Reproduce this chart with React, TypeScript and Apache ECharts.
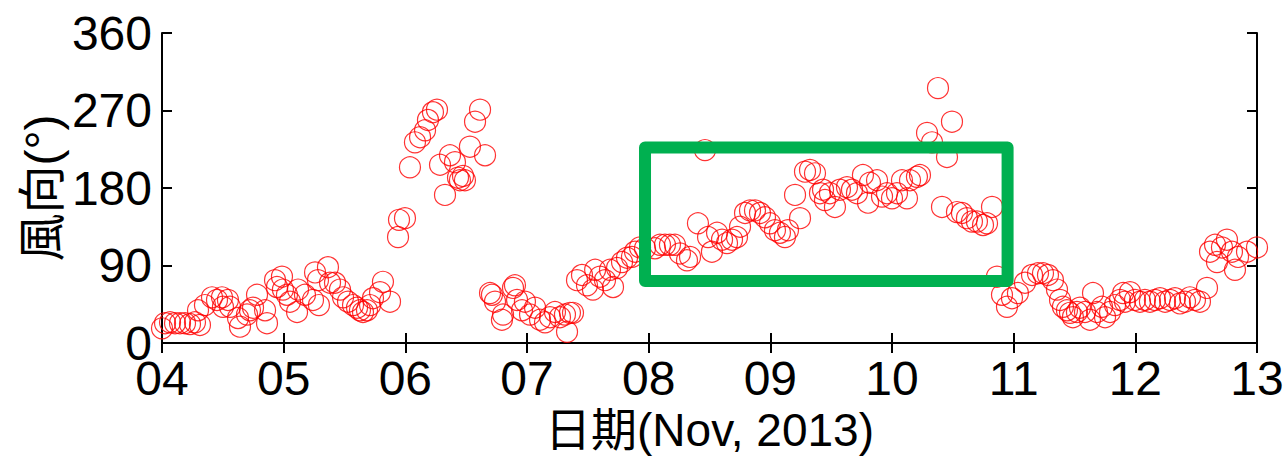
import React, { useEffect, useRef } from "react";
import * as echarts from "echarts";

const days: number[] = [
  4.0, 4.025, 4.066, 4.107, 4.148, 4.189, 4.23, 4.271, 4.296, 4.312, 4.353, 4.411, 4.452, 4.493, 4.501, 4.542, 4.559,
  4.625, 4.641, 4.699, 4.723, 4.748, 4.781, 4.847, 4.863, 4.929, 4.945, 4.986, 4.994, 5.027, 5.052, 5.11, 5.118,
  5.175, 5.241, 5.258, 5.282, 5.29, 5.364, 5.381, 5.422, 5.463, 5.488, 5.529, 5.57, 5.603, 5.627, 5.652, 5.685,
  5.71, 5.734, 5.792, 5.816, 5.874, 5.94, 5.948, 5.997, 6.038, 6.079, 6.121, 6.162, 6.186, 6.227, 6.26, 6.285,
  6.326, 6.367, 6.408, 6.433, 6.449, 6.474, 6.49, 6.531, 6.573, 6.614, 6.655, 6.696, 6.712, 6.737, 6.794, 6.803,
  6.885, 6.901, 6.918, 6.959, 6.983, 7.025, 7.066, 7.107, 7.148, 7.189, 7.23, 7.271, 7.312, 7.329, 7.353, 7.378,
  7.411, 7.452, 7.493, 7.542, 7.56, 7.6, 7.641, 7.682, 7.707, 7.74, 7.781, 7.822, 7.863, 7.888, 7.929, 7.97,
  8.052, 8.093, 8.134, 8.175, 8.216, 8.257, 8.315, 8.34, 8.405, 8.463, 8.488, 8.52, 8.562, 8.603, 8.644, 8.685,
  8.726, 8.751, 8.792, 8.833, 8.874, 8.915, 8.956, 8.997, 9.038, 9.079, 9.12, 9.145, 9.203, 9.244, 9.285, 9.326,
  9.367, 9.408, 9.433, 9.449, 9.49, 9.531, 9.572, 9.63, 9.671, 9.712, 9.761, 9.803, 9.819, 9.877, 9.918, 9.959,
  10.0, 10.041, 10.082, 10.123, 10.148, 10.205, 10.23, 10.288, 10.329, 10.378, 10.411, 10.452, 10.493, 10.534,
  10.575, 10.616, 10.657, 10.698, 10.748, 10.781, 10.822, 10.863, 10.904, 10.945, 10.986, 11.035, 11.093, 11.151,
  11.2, 11.241, 11.282, 11.323, 11.356, 11.381, 11.405, 11.438, 11.463, 11.487, 11.52, 11.545, 11.586, 11.627,
  11.652, 11.685, 11.726, 11.751, 11.792, 11.833, 11.874, 11.9, 11.915, 11.956, 11.997, 12.038, 12.079, 12.12,
  12.161, 12.203, 12.244, 12.285, 12.326, 12.367, 12.408, 12.449, 12.49, 12.531, 12.589, 12.614, 12.655, 12.671,
  12.712, 12.753, 12.794, 12.819, 12.844, 12.918, 13.0,
];

const values: number[] = [
  17, 23, 24, 23, 23, 23, 22, 24, 38, 21, 44, 53, 50, 53, 42, 50, 42,
  29, 19, 33, 38, 41, 56, 38, 23, 73, 65, 77, 62, 56, 48, 36, 62,
  56, 50, 82, 73, 44, 88, 70, 70, 62, 53, 48, 44, 41, 38, 36, 38,
  44, 52, 59, 71, 48, 123, 143, 145, 204, 233, 239, 247, 259, 268, 271, 207,
  172, 218, 210, 192, 189, 194, 189, 228, 257, 271, 218, 58, 56, 48, 27, 33,
  64, 67, 50, 38, 48, 33, 41, 27, 24, 30, 36, 30, 33, 13, 35, 35,
  73, 79, 67, 62, 85, 77, 73, 85, 65, 87, 94, 99, 100, 106, 111, 110,
  110, 114, 114, 114, 114, 104, 96, 100, 139, 224, 123, 106, 128, 120, 116, 120,
  123, 135, 151, 154, 154, 151, 146, 139, 131, 128, 123, 131, 172, 145, 199, 201,
  197, 174, 178, 166, 174, 158, 178, 181, 178, 174, 195, 163, 186, 189, 170, 174,
  168, 174, 189, 168, 189, 193, 195, 244, 233, 296, 158, 216, 257, 152,
  151, 145, 141, 141, 137, 139, 158, 77, 56, 42, 52, 58, 70, 79,
  81, 81, 79, 73, 62, 50, 42, 38, 35, 30, 36, 41, 36, 27,
  58, 36, 42, 30, 36, 44, 50, 58, 48, 59, 50, 48, 50, 48,
  50, 52, 48, 50, 52, 46, 48, 53, 50, 48, 64, 106, 114, 94,
  111, 120, 106, 85, 100, 106, 111,
];

const xTickLabels = ["04", "05", "06", "07", "08", "09", "10", "11", "12", "13"];
const yTicks = [0, 90, 180, 270, 360];

// highlight box (data coordinates)
const boxDays = [7.97, 10.95];
const boxValues = [72, 227];

const FONT = "'Liberation Sans', Arial, 'Noto Sans CJK TC', sans-serif";

export default function App() {
  const ref = useRef<HTMLDivElement>(null);
  useEffect(() => {
    if (!ref.current) return;
    const chart = echarts.init(ref.current, undefined, { renderer: "svg" });
    const scatterData = days.map((d, i) => [d, values[i]]);
    const boxData = [
      [boxDays[0], boxValues[1]],
      [boxDays[1], boxValues[1]],
      [boxDays[1], boxValues[0]],
      [boxDays[0], boxValues[0]],
      [boxDays[0], boxValues[1]],
    ];
    const axisLine = { show: true, lineStyle: { color: "#000", width: 2 } };
    const axisTick = { show: true, inside: true, length: 10, lineStyle: { color: "#000", width: 2 } };
    chart.setOption({
      animation: false,
      backgroundColor: "#fff",
      grid: { left: 162, right: 30, top: 33, bottom: 119, containLabel: false, outerBoundsMode: "none" },
      xAxis: [
        {
          type: "value",
          min: 4,
          max: 13,
          interval: 1,
          position: "bottom",
          axisLine,
          axisTick,
          splitLine: { show: false },
          axisLabel: {
            show: true,
            margin: 19,
            fontSize: 48,
            lineHeight: 32,
            color: "#000",
            fontFamily: FONT,
            formatter: (v: number) => xTickLabels[Math.round(v) - 4] ?? "",
          },
          name: "日期(Nov, 2013)",
          nameLocation: "middle",
          nameGap: 64,
          nameMoveOverlap: false,
          nameTextStyle: { fontSize: 46, lineHeight: 46, color: "#000", fontFamily: FONT },
        },
        {
          type: "value",
          min: 4,
          max: 13,
          interval: 1,
          position: "top",
          axisLine,
          axisTick,
          splitLine: { show: false },
          axisLabel: { show: false },
        },
      ],
      yAxis: [
        {
          type: "value",
          min: yTicks[0],
          max: yTicks[yTicks.length - 1],
          interval: 90,
          position: "left",
          axisLine,
          axisTick,
          splitLine: { show: false },
          axisLabel: { show: true, margin: 10, fontSize: 48, lineHeight: 32, color: "#000", fontFamily: FONT },
          name: "風向(°)",
          nameLocation: "middle",
          nameGap: 96,
          nameRotate: 90,
          nameMoveOverlap: false,
          nameTextStyle: { fontSize: 48, lineHeight: 48, color: "#000", fontFamily: FONT },
        },
        {
          type: "value",
          min: yTicks[0],
          max: yTicks[yTicks.length - 1],
          interval: 90,
          position: "right",
          axisLine,
          axisTick,
          splitLine: { show: false },
          axisLabel: { show: false },
        },
      ],
      series: [
        {
          type: "scatter",
          data: scatterData,
          symbol: "circle",
          symbolSize: 21,
          itemStyle: { color: "rgba(0,0,0,0)", borderColor: "#ff0000", borderWidth: 1.2 },
          z: 2,
        },
        {
          type: "line",
          data: boxData,
          showSymbol: false,
          symbol: "none",
          lineStyle: { color: "#00b050", width: 12, join: "round", cap: "round" },
          z: 3,
        },
      ],
    });
    return () => chart.dispose();
  }, []);
  return (
    <div
      ref={ref}
      style={{ position: "absolute", left: 0, top: 0, width: 1287, height: 462, background: "#fff" }}
    />
  );
}
